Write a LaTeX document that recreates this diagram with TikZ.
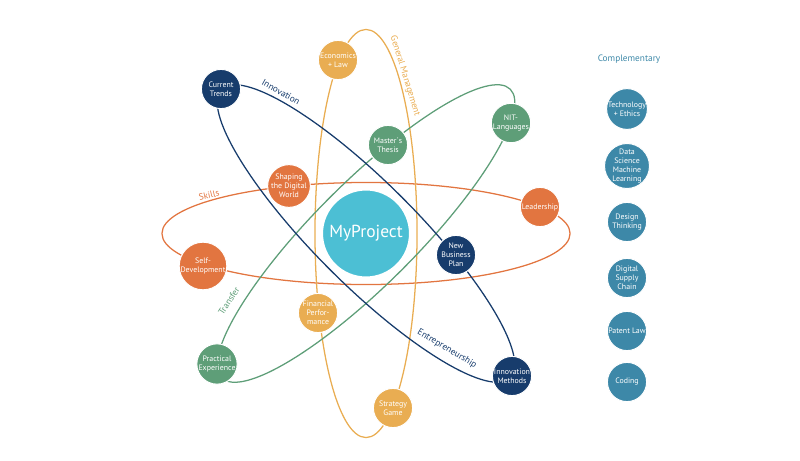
\documentclass[tikz,border=0pt]{standalone}
\usepackage{fontspec}
\setmainfont{PT Sans}
\usetikzlibrary{positioning}
\definecolor{navy}{HTML}{173C6C}
\definecolor{skillorange}{HTML}{E27540}
\definecolor{mgmtyellow}{HTML}{E9AD52}
\definecolor{transgreen}{HTML}{5E9E78}
\definecolor{projteal}{HTML}{4CBFD4}
\definecolor{compblue}{HTML}{3D88A8}

\begin{document}
\begin{tikzpicture}[x=0.025cm,y=-0.025cm,
  topic/.style={circle, draw=white, line width=0.7pt, minimum size=0.98cm, inner sep=0pt,
    align=center, text=white, font=\fontsize{5.6}{6.4}\selectfont},
  orbit/.style={line width=0.9pt},
  orbitlabel/.style={inner sep=0pt, font=\fontsize{6.5}{8}\selectfont}]
\useasboundingbox (0,0) rectangle (800,460);
\coordinate (c) at (366,233.5);

\draw[orbit, skillorange] (c) ellipse [x radius=5.1cm, y radius=1.275cm];
\draw[orbit, mgmtyellow] (c) ellipse [x radius=1.275cm, y radius=5.1cm];
\draw[orbit, transgreen, rotate around={45:(c)}] (c) ellipse [x radius=5.1cm, y radius=1.275cm];
\draw[orbit, navy, rotate around={-45:(c)}] (c) ellipse [x radius=5.1cm, y radius=1.275cm];

\node[circle, fill=projteal, draw=white, line width=1.5pt, minimum size=2.2cm, text=white,
  font=\fontsize{12.4}{14}\selectfont] (proj) at (c) {MyProject};

\node[topic, fill=navy] (trends) at (221,89) {Current\\Trends};
\node[topic, fill=navy] (bizplan) at (456,255) {New\\Business\\Plan};
\node[topic, fill=navy] (methods) at (512,376) {Innovation\\Methods};
\node[topic, fill=mgmtyellow] (econ) at (338,60) {Economics\\+ Law};
\node[topic, fill=mgmtyellow] (finance) at (318,313) {Financial\\Perfor-\\mance};
\node[topic, fill=mgmtyellow] (game) at (393,408) {Strategy\\Game};
\node[topic, fill=transgreen] (thesis) at (388,145) {Master´s\\Thesis};
\node[topic, fill=transgreen] (nit) at (511,123) {NIT-\\Languages};
\node[topic, fill=transgreen] (practice) at (217,364) {Practical\\Experience};
\node[topic, fill=skillorange] (digital) at (289,186) {Shaping\\the Digital\\World};
\node[topic, fill=skillorange] (lead) at (540,207) {Leadership};
\node[topic, fill=skillorange] (selfdev) at (203,266) {Self-\\Development};

\node[orbitlabel, text=navy, rotate=-29] (innov) at (281,92) {Innovation};
\node[orbitlabel, text=navy, rotate=-31] (entre) at (447,349) {Entrepreneurship};
\node[orbitlabel, text=skillorange, rotate=13] (skills) at (209,195) {Skills};
\node[orbitlabel, text=transgreen, rotate=57] (transfer) at (229,301) {Transfer};
\node[orbitlabel, text=mgmtyellow, rotate=-73] (mgmt) at (405,76) {General Management};

\node[orbitlabel, text=compblue, font=\fontsize{6.6}{8}\selectfont] (comp) at (629,59) {Complementary};
\node[topic, fill=compblue] (ethics) at (627,109) {Technology\\+ Ethics};
\node[topic, fill=compblue] (datasci) at (627,166) {Data\\Science\\Machine\\Learning};
\node[topic, fill=compblue] (design) at (627,222) {Design\\Thinking};
\node[topic, fill=compblue] (supply) at (627,278) {Digital\\Supply\\Chain};
\node[topic, fill=compblue] (patent) at (627,331) {Patent Law};
\node[topic, fill=compblue] (coding) at (627,382) {Coding};
\end{tikzpicture}
\end{document}
